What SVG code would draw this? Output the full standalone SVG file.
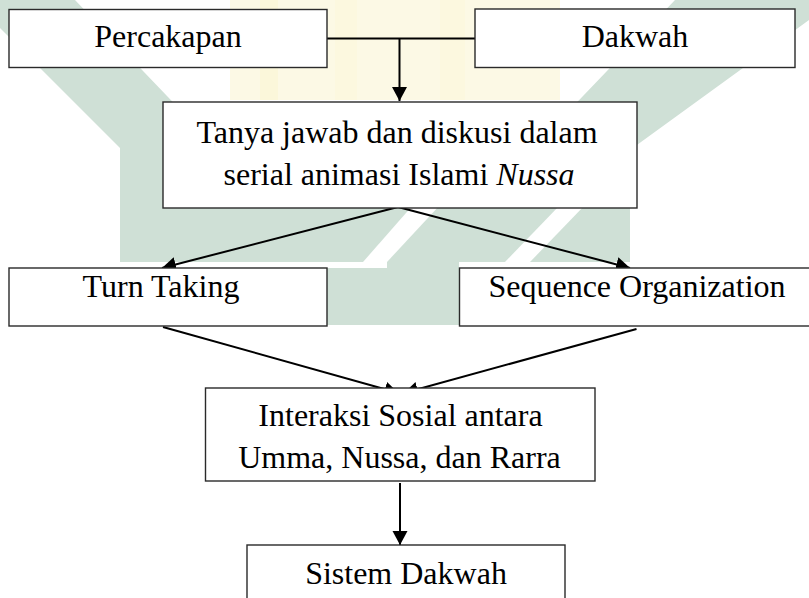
<svg xmlns="http://www.w3.org/2000/svg" width="809" height="598" viewBox="0 0 809 598">
<defs>
<style>
.box{fill:#fff;stroke:#2a2a2a;stroke-width:1.4}
.t{font-family:"Liberation Serif","Times New Roman",serif;font-size:32px;fill:#000;text-anchor:middle}
.c{stroke:#000;stroke-width:2;fill:none}
.wm{fill:#cfe0d6}
.wy{fill:#fcf9e5}
</style>
<marker id="ah" markerUnits="userSpaceOnUse" markerWidth="15" markerHeight="16" refX="14" refY="7.5" orient="auto">
<path d="M0,0 L14,7.5 L0,15 z" fill="#000"/>
</marker>
</defs>
<rect width="809" height="598" fill="#fff"/>
<g id="watermark">
<rect class="wy" x="230" y="0" width="330" height="100"/>
<rect x="260" y="0" width="18" height="100" fill="#fbf7da"/>
<rect x="335" y="0" width="22" height="100" fill="#fcf8df"/>
<rect x="440" y="0" width="25" height="100" fill="#fcf8df"/>
<polygon class="wm" points="0,0 75,0 190,120 190,262 120,262 120,148 0,28"/>
<polygon class="wm" points="675,0 809,0 809,20 630,150 630,262 560,262 560,120"/>
<polygon class="wm" points="120,205 630,205 630,262 459,262 459,325 327,325 327,262 120,262"/>
<polygon fill="#fff" points="413,205 440,205 387,262 363,262"/>
<polygon fill="#fff" points="327,262 387,262 387,268 327,268"/>
<polygon fill="#fff" points="560,205 585,205 530,262 505,262"/>
</g>
<g id="connectors">
<line class="c" x1="327" y1="38.5" x2="475" y2="38.5"/>
<line class="c" x1="399.5" y1="38.5" x2="399.5" y2="101" marker-end="url(#ah)"/>
<line class="c" x1="398" y1="207" x2="162" y2="268" marker-end="url(#ah)"/>
<line class="c" x1="398" y1="207" x2="630" y2="268" marker-end="url(#ah)"/>
<line class="c" x1="163" y1="327" x2="398.5" y2="393" marker-end="url(#ah)"/>
<line class="c" x1="636.5" y1="329" x2="404" y2="393" marker-end="url(#ah)"/>
<line class="c" x1="400" y1="483" x2="400" y2="545" marker-end="url(#ah)"/>
</g>
<g id="percakapan">
<rect class="box" x="9" y="9.5" width="318" height="58"/>
<text class="t" x="168" y="47">Percakapan</text>
</g>
<g id="dakwah">
<rect class="box" x="475" y="9" width="320" height="58.5"/>
<text class="t" x="635" y="47">Dakwah</text>
</g>
<g id="tanya">
<rect class="box" x="163" y="102" width="474" height="106"/>
<text class="t" x="397" y="143">Tanya jawab dan diskusi dalam</text>
<text class="t" x="399" y="185">serial animasi Islami <tspan font-style="italic">Nussa</tspan></text>
</g>
<g id="turntaking">
<rect class="box" x="9" y="268" width="318" height="58"/>
<text class="t" x="161" y="297">Turn Taking</text>
</g>
<g id="sequence">
<rect class="box" x="459.5" y="268" width="360" height="58"/>
<text class="t" x="637" y="297">Sequence Organization</text>
</g>
<g id="interaksi">
<rect class="box" x="205.5" y="388" width="389.5" height="93"/>
<text class="t" x="400.5" y="426">Interaksi Sosial antara</text>
<text class="t" x="399.5" y="468">Umma, Nussa, dan Rarra</text>
</g>
<g id="sistem">
<rect class="box" x="247" y="545" width="318" height="70"/>
<text class="t" x="406" y="584">Sistem Dakwah</text>
</g>
</svg>
